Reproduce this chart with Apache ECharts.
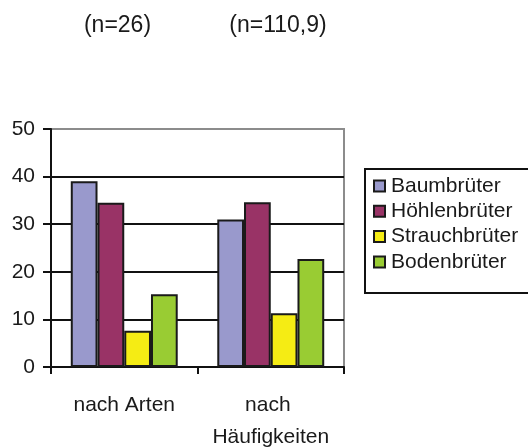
<!DOCTYPE html>
<html>
<head>
<meta charset="utf-8">
<script src="https://cdn.jsdelivr.net/npm/echarts@6/dist/echarts.min.js"></script>
<style>html,body{margin:0;padding:0;background:#fff;}#c{width:528px;height:447px;}</style>
</head>
<body>
<div id="c"></div>
<script>
var categories = ["nach Arten", "nach Häufigkeiten"];
var seriesNames = ["Baumbrüter", "Höhlenbrüter", "Strauchbrüter", "Bodenbrüter"];
var baumbrueter = [39.0, 31.0];
var hoehlenbrueter = [34.5, 34.6];
var strauchbrueter = [7.6, 11.3];
var bodenbrueter = [15.3, 22.7];
var nLabels = ["(n=26)", "(n=110,9)"];
var yTicks = [0, 10, 20, 30, 40, 50];

var colors = ["#9999cc", "#993366", "#f5ec14", "#99cc33"];
var values = [baumbrueter, hoehlenbrueter, strauchbrueter, bodenbrueter];
var font = "Liberation Sans";
var txt = "#1a1a1a";

var chart = echarts.init(document.getElementById('c'), null, {renderer: 'canvas'});
chart.setOption({
  animation: false,
  backgroundColor: '#fff',
  grid: {left: 51, right: 184, top: 129, bottom: 80, outerBoundsMode: 'none', containLabel: false, show: true, borderColor: '#8c8c8c', borderWidth: 2, backgroundColor: 'transparent'},
  legend: {
    left: 365, top: 169,
    orient: 'vertical',
    icon: 'rect',
    itemWidth: 11, itemHeight: 11,
    itemGap: 4.3,
    padding: [6.5, 40, 20.5, 8],
    borderColor: '#111', borderWidth: 2,
    textStyle: {fontFamily: font, fontSize: 21, color: txt, lineHeight: 21, padding: [0, 0, 0, 1]},
    data: seriesNames
  },
  graphic: nLabels.map(function (t, i) {
    return {type: 'text', x: [117.5, 278][i], y: 26, style: {text: t, font: '23px "' + font + '"', fill: txt, align: 'center', verticalAlign: 'middle'}};
  }),
  xAxis: {
    type: 'category',
    data: categories,
    axisLine: {lineStyle: {color: '#111', width: 2}},
    axisTick: {show: true, alignWithLabel: false, length: 7, lineStyle: {color: '#111', width: 2}},
    axisLabel: {fontFamily: font, fontSize: 21, color: txt, margin: 22, lineHeight: 32, width: 140, overflow: 'break', interval: 0}
  },
  yAxis: {
    type: 'value',
    min: yTicks[0], max: yTicks[yTicks.length - 1], interval: 10,
    axisLine: {show: true, lineStyle: {color: '#111', width: 2}},
    axisTick: {show: true, length: 8, lineStyle: {color: '#111', width: 2}},
    axisLabel: {fontFamily: font, fontSize: 21, color: txt, margin: 16},
    splitLine: {show: true, lineStyle: {color: ['#111', '#111', '#111', '#111', '#111', '#8c8c8c'], width: 2}}
  },
  series: seriesNames.map(function (n, i) {
    return {
      name: n, type: 'bar', data: values[i],
      barGap: '0%', barCategoryGap: '27%',
      itemStyle: {color: colors[i], borderColor: '#1a1a1a', borderWidth: 2}
    };
  })
});
</script>
</body>
</html>
